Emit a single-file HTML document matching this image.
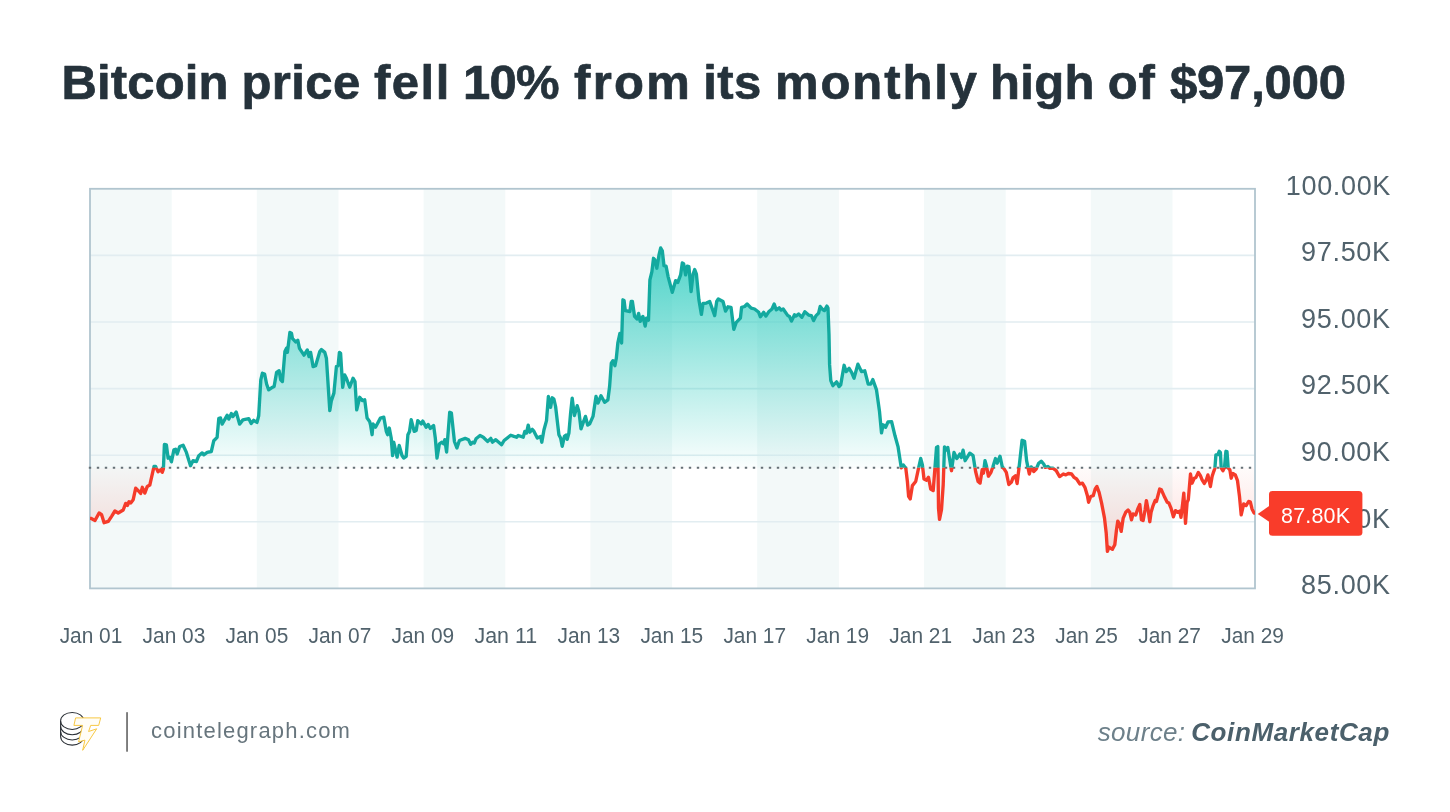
<!DOCTYPE html>
<html><head><meta charset="utf-8"><title>Bitcoin price chart</title>
<style>
html,body{margin:0;padding:0;background:#fff;}
body{width:1450px;height:812px;overflow:hidden;font-family:"Liberation Sans",sans-serif;}
svg{display:block;will-change:transform;}
text{font-family:"Liberation Sans",sans-serif;white-space:pre;}
.tt{font-size:49px;font-weight:bold;fill:#25323b;stroke:#25323b;stroke-width:0.7px;stroke-linejoin:round;}
.yl{font-size:27px;fill:#51626c;}
.xl{font-size:21.5px;fill:#51626c;}
</style></head><body>
<svg width="1450" height="812" viewBox="0 0 1450 812">
<defs>
<linearGradient id="gt" gradientUnits="userSpaceOnUse" x1="0" y1="246" x2="0" y2="467.8">
<stop offset="0" stop-color="#20c9bb" stop-opacity="0.80"/><stop offset="1" stop-color="#20c9bb" stop-opacity="0.02"/>
</linearGradient>
<linearGradient id="gr" gradientUnits="userSpaceOnUse" x1="0" y1="467.8" x2="0" y2="588.4">
<stop offset="0" stop-color="#f23c2c" stop-opacity="0.02"/><stop offset="1" stop-color="#f23c2c" stop-opacity="0.25"/>
</linearGradient>
<clipPath id="ca"><rect x="90.0" y="188.8" width="1165.0" height="279.0"/></clipPath>
<clipPath id="cb"><rect x="90.0" y="467.8" width="1165.0" height="120.6"/></clipPath>
</defs>
<rect width="1450" height="812" fill="#ffffff"/>
<text x="61.52" y="99.1" class="tt" textLength="166.97" lengthAdjust="spacing">Bitcoin</text><text x="241.52" y="99.1" class="tt" textLength="118.71" lengthAdjust="spacing">price</text><text x="374.00" y="99.1" class="tt" textLength="75.38" lengthAdjust="spacing">fell</text><text x="463.00" y="99.1" class="tt" textLength="96.50" lengthAdjust="spacing">10%</text><text x="574.00" y="99.1" class="tt" textLength="115.93" lengthAdjust="spacing">from</text><text x="703.24" y="99.1" class="tt" textLength="58.07" lengthAdjust="spacing">its</text><text x="775.00" y="99.1" class="tt" textLength="202.01" lengthAdjust="spacing">monthly</text><text x="990.00" y="99.1" class="tt" textLength="104.34" lengthAdjust="spacing">high</text><text x="1107.76" y="99.1" class="tt" textLength="47.17" lengthAdjust="spacing">of</text><text x="1169.96" y="99.1" class="tt" textLength="176.05" lengthAdjust="spacing">$97,000</text>
<rect x="90.0" y="188.8" width="81.7" height="399.6" fill="#f3f9f9"/><rect x="256.8" y="188.8" width="81.7" height="399.6" fill="#f3f9f9"/><rect x="423.6" y="188.8" width="81.7" height="399.6" fill="#f3f9f9"/><rect x="590.4" y="188.8" width="81.7" height="399.6" fill="#f3f9f9"/><rect x="757.2" y="188.8" width="81.7" height="399.6" fill="#f3f9f9"/><rect x="924.0" y="188.8" width="81.7" height="399.6" fill="#f3f9f9"/><rect x="1090.8" y="188.8" width="81.7" height="399.6" fill="#f3f9f9"/>
<line x1="90.0" x2="1255.0" y1="255.4" y2="255.4" stroke="#e2edf1" stroke-width="1.6"/><line x1="90.0" x2="1255.0" y1="322.0" y2="322.0" stroke="#e2edf1" stroke-width="1.6"/><line x1="90.0" x2="1255.0" y1="388.6" y2="388.6" stroke="#e2edf1" stroke-width="1.6"/><line x1="90.0" x2="1255.0" y1="455.2" y2="455.2" stroke="#e2edf1" stroke-width="1.6"/><line x1="90.0" x2="1255.0" y1="521.8" y2="521.8" stroke="#e2edf1" stroke-width="1.6"/>
<g clip-path="url(#ca)"><polygon points="90.0,467.8 90.0,518.3 90.8,518.3 95.0,520.5 99.1,513.0 101.6,514.7 104.1,522.7 108.3,521.3 111.6,516.3 114.9,511.0 118.2,513.0 123.2,510.0 125.7,503.4 127.4,505.5 129.0,501.7 130.7,503.0 133.2,499.7 135.7,488.1 138.2,490.6 140.7,493.4 142.3,487.3 144.8,493.1 147.3,486.4 149.8,485.1 154.0,466.5 155.6,466.5 158.1,471.8 160.6,469.8 162.3,472.3 163.4,469.0 164.4,444.5 166.4,444.9 168.1,458.2 169.8,457.3 171.4,461.8 173.9,449.9 175.6,449.2 177.2,454.0 179.7,446.5 183.1,445.2 186.4,452.4 190.5,465.7 193.0,460.7 196.4,461.5 198.8,455.7 202.2,452.9 203.8,454.8 207.2,452.4 211.3,451.5 213.8,440.7 217.1,437.4 218.8,418.3 220.5,418.0 222.1,424.1 227.1,415.3 228.8,419.1 231.3,413.6 232.9,416.6 236.2,412.0 239.6,424.1 242.9,419.9 248.7,418.6 251.2,423.6 253.7,420.3 257.0,422.4 258.7,415.8 260.8,379.8 262.4,373.2 264.6,374.0 266.6,384.0 268.6,389.8 271.6,387.8 274.1,386.5 276.6,372.4 279.1,370.7 280.7,379.8 282.4,381.5 284.9,351.6 286.5,348.3 287.4,352.4 289.9,332.5 291.5,333.3 292.4,338.3 295.7,342.0 297.8,340.3 299.5,348.3 304.0,355.2 307.3,349.9 309.0,356.6 310.6,352.4 313.1,366.6 315.6,365.7 319.8,351.6 321.4,349.6 324.8,352.4 326.4,358.2 329.8,410.6 331.4,400.6 333.9,393.1 336.4,366.6 338.1,365.7 339.4,352.4 340.6,353.3 342.7,387.3 344.7,374.9 346.4,378.2 349.7,387.3 353.0,378.2 355.0,381.5 356.7,409.8 359.7,397.3 362.2,400.6 364.7,399.8 367.1,418.1 369.6,421.4 370.5,424.7 372.1,434.7 373.0,423.9 375.5,427.2 380.4,418.1 383.8,417.2 386.3,431.4 387.6,434.7 389.3,428.0 391.2,438.0 392.6,455.5 393.7,442.2 397.1,457.1 399.2,445.5 402.0,455.5 403.7,458.0 406.2,456.3 407.9,434.7 409.5,431.4 411.2,419.7 414.2,431.4 416.2,430.5 417.8,420.6 421.2,423.9 422.8,421.1 426.1,427.2 428.1,424.4 430.3,428.4 433.6,425.6 435.3,438.0 437.0,458.0 439.4,443.8 441.9,442.2 443.6,443.8 444.8,439.7 446.6,452.1 449.7,412.3 451.4,413.1 454.4,441.3 456.9,448.0 459.4,440.5 465.2,438.4 468.5,439.7 470.7,444.3 472.7,442.2 474.3,443.0 476.0,438.8 480.0,435.5 483.3,437.2 487.5,441.4 490.8,438.4 492.4,442.2 495.8,439.7 501.6,444.7 504.1,440.5 510.7,435.2 514.0,436.4 516.5,437.2 518.2,435.5 523.2,437.2 524.8,431.4 526.5,433.0 528.2,425.1 529.8,432.2 532.3,429.4 534.0,431.4 537.3,438.0 540.6,436.4 541.8,442.2 544.0,429.7 546.5,420.6 548.4,396.5 550.6,407.3 552.3,397.8 553.9,399.0 555.6,406.5 558.9,434.7 560.6,438.0 562.2,446.3 564.4,436.4 566.1,435.0 567.2,439.4 568.9,433.0 570.6,413.1 572.2,398.1 574.4,415.6 577.2,405.6 578.9,411.4 581.0,428.9 583.0,423.1 585.5,416.4 587.7,425.1 589.7,423.9 593.0,416.4 596.0,396.5 598.0,403.1 601.0,395.7 604.6,402.3 607.9,399.8 609.6,386.5 611.3,363.2 612.9,360.7 614.9,365.7 616.3,358.3 617.9,342.5 619.9,333.4 621.6,343.0 622.9,299.8 624.1,300.7 625.3,310.6 629.9,311.5 631.2,301.5 632.4,301.5 634.6,316.4 636.9,318.9 638.6,313.4 640.2,321.4 642.9,316.4 645.2,326.1 646.5,318.1 648.5,320.1 649.9,279.9 651.9,271.6 653.5,258.3 654.8,259.9 656.8,268.2 659.0,254.9 660.7,248.0 662.3,250.8 664.0,265.7 666.1,266.2 668.1,276.6 672.3,292.3 675.6,280.7 677.8,282.4 680.6,274.9 682.3,262.9 683.6,263.6 685.6,274.9 687.3,266.2 688.9,266.6 691.1,291.5 693.1,274.1 694.7,269.6 696.4,274.1 698.9,299.8 701.4,314.4 703.0,303.5 706.4,303.1 709.7,301.5 714.7,315.6 716.7,301.5 718.3,299.0 723.0,301.5 725.5,311.1 728.0,306.8 731.0,307.3 733.8,329.4 736.3,322.3 740.4,318.1 741.6,307.3 744.6,306.5 747.1,304.0 751.2,308.1 754.6,309.0 758.7,312.3 760.4,316.8 763.7,312.3 765.9,316.1 768.7,311.8 772.0,309.0 774.2,304.0 776.2,309.8 779.2,307.8 781.2,310.1 783.2,309.0 787.8,315.6 789.5,316.4 791.5,321.1 794.5,314.8 796.1,316.1 798.6,313.9 801.9,317.3 804.8,311.8 808.6,315.1 811.4,315.6 813.6,320.6 816.1,315.6 818.6,313.1 820.2,306.5 822.7,309.5 824.4,310.6 826.9,306.1 828.0,308.1 829.0,334.7 829.6,364.9 830.8,380.7 832.9,385.7 836.6,381.9 839.1,386.6 840.7,384.9 844.1,365.3 846.2,371.6 849.1,368.3 851.6,372.4 854.0,378.2 857.9,364.1 861.5,371.6 864.8,370.8 868.2,384.1 870.7,384.1 872.8,379.6 876.5,389.9 879.5,411.5 881.5,432.8 883.1,424.8 885.6,427.3 888.0,422.0 891.6,421.6 895.0,435.8 898.0,446.6 901.3,467.9 903.3,464.9 905.8,468.2 907.4,481.5 908.6,496.4 910.2,498.9 912.4,485.6 915.7,481.5 918.2,469.8 920.7,458.5 922.4,464.9 924.0,479.0 926.5,480.2 928.5,477.3 930.7,489.0 933.2,490.6 934.8,469.8 936.5,447.4 937.8,446.6 938.5,508.1 939.5,519.4 941.5,509.7 943.2,484.8 944.5,446.9 946.1,449.9 947.8,447.4 949.5,458.2 951.5,470.7 954.0,452.4 956.8,458.5 959.8,454.1 961.4,457.4 963.1,450.2 965.1,460.7 969.8,453.2 973.1,455.7 975.6,471.5 978.1,481.5 980.1,483.1 982.2,469.8 983.4,473.2 985.0,460.7 986.4,465.7 988.4,476.2 991.0,472.3 993.0,466.5 995.5,458.5 997.2,463.2 1000.0,456.2 1002.2,466.5 1004.7,469.8 1006.3,472.3 1008.8,484.5 1011.3,482.3 1013.0,477.8 1015.5,475.7 1017.1,483.5 1018.8,469.8 1022.1,440.3 1024.6,441.3 1026.6,460.7 1029.3,474.0 1031.2,466.9 1033.7,471.5 1036.2,469.0 1038.7,463.2 1041.2,461.2 1043.7,464.0 1045.4,467.4 1047.9,466.5 1049.5,468.2 1052.9,468.2 1056.2,470.7 1059.5,476.5 1060.0,476.5 1063.3,474.0 1065.8,474.9 1068.3,473.5 1071.6,474.0 1074.1,477.4 1076.6,479.0 1079.9,484.0 1082.4,483.2 1084.9,487.3 1087.4,495.7 1088.6,502.3 1090.7,496.5 1093.2,495.7 1095.2,489.0 1096.9,486.5 1099.1,492.3 1101.6,503.1 1104.5,518.1 1106.2,533.0 1107.4,551.3 1109.0,547.2 1110.7,548.3 1112.4,549.3 1114.8,544.7 1116.5,529.7 1117.8,521.1 1119.5,523.9 1121.2,531.4 1123.2,518.1 1125.7,512.3 1128.1,510.1 1129.8,512.3 1131.5,519.8 1133.1,513.9 1135.6,515.1 1138.1,508.1 1139.8,504.5 1141.4,519.8 1143.1,520.6 1145.1,509.8 1146.4,500.6 1148.1,509.8 1149.8,521.7 1151.1,512.3 1153.1,505.6 1155.1,500.6 1156.4,501.5 1159.7,489.0 1161.4,489.8 1164.7,497.3 1167.2,502.3 1168.9,503.1 1171.0,508.1 1173.4,516.8 1175.5,510.6 1177.7,512.3 1179.7,511.1 1181.0,517.3 1182.7,503.1 1183.8,493.2 1185.5,523.4 1187.1,502.3 1188.3,499.8 1190.5,474.0 1192.1,483.2 1194.3,478.2 1196.0,477.4 1198.3,472.4 1200.4,475.7 1202.1,479.9 1204.3,483.5 1206.3,479.9 1207.9,474.9 1210.4,486.5 1212.1,476.5 1213.7,471.6 1214.9,468.2 1215.9,454.9 1217.9,454.6 1219.2,451.3 1220.4,452.4 1221.2,467.9 1222.9,470.7 1224.5,467.4 1225.9,451.3 1227.0,451.6 1228.2,467.9 1229.9,469.9 1231.2,478.2 1232.9,473.5 1235.3,474.9 1237.5,480.7 1239.5,496.5 1241.2,514.8 1243.7,504.0 1246.1,505.6 1248.6,501.5 1250.3,501.8 1252.0,508.9 1254.1,513.1 1254.5,513.1 1254.5,467.8" fill="url(#gt)"/></g>
<g clip-path="url(#cb)"><polygon points="90.0,467.8 90.0,518.3 90.8,518.3 95.0,520.5 99.1,513.0 101.6,514.7 104.1,522.7 108.3,521.3 111.6,516.3 114.9,511.0 118.2,513.0 123.2,510.0 125.7,503.4 127.4,505.5 129.0,501.7 130.7,503.0 133.2,499.7 135.7,488.1 138.2,490.6 140.7,493.4 142.3,487.3 144.8,493.1 147.3,486.4 149.8,485.1 154.0,466.5 155.6,466.5 158.1,471.8 160.6,469.8 162.3,472.3 163.4,469.0 164.4,444.5 166.4,444.9 168.1,458.2 169.8,457.3 171.4,461.8 173.9,449.9 175.6,449.2 177.2,454.0 179.7,446.5 183.1,445.2 186.4,452.4 190.5,465.7 193.0,460.7 196.4,461.5 198.8,455.7 202.2,452.9 203.8,454.8 207.2,452.4 211.3,451.5 213.8,440.7 217.1,437.4 218.8,418.3 220.5,418.0 222.1,424.1 227.1,415.3 228.8,419.1 231.3,413.6 232.9,416.6 236.2,412.0 239.6,424.1 242.9,419.9 248.7,418.6 251.2,423.6 253.7,420.3 257.0,422.4 258.7,415.8 260.8,379.8 262.4,373.2 264.6,374.0 266.6,384.0 268.6,389.8 271.6,387.8 274.1,386.5 276.6,372.4 279.1,370.7 280.7,379.8 282.4,381.5 284.9,351.6 286.5,348.3 287.4,352.4 289.9,332.5 291.5,333.3 292.4,338.3 295.7,342.0 297.8,340.3 299.5,348.3 304.0,355.2 307.3,349.9 309.0,356.6 310.6,352.4 313.1,366.6 315.6,365.7 319.8,351.6 321.4,349.6 324.8,352.4 326.4,358.2 329.8,410.6 331.4,400.6 333.9,393.1 336.4,366.6 338.1,365.7 339.4,352.4 340.6,353.3 342.7,387.3 344.7,374.9 346.4,378.2 349.7,387.3 353.0,378.2 355.0,381.5 356.7,409.8 359.7,397.3 362.2,400.6 364.7,399.8 367.1,418.1 369.6,421.4 370.5,424.7 372.1,434.7 373.0,423.9 375.5,427.2 380.4,418.1 383.8,417.2 386.3,431.4 387.6,434.7 389.3,428.0 391.2,438.0 392.6,455.5 393.7,442.2 397.1,457.1 399.2,445.5 402.0,455.5 403.7,458.0 406.2,456.3 407.9,434.7 409.5,431.4 411.2,419.7 414.2,431.4 416.2,430.5 417.8,420.6 421.2,423.9 422.8,421.1 426.1,427.2 428.1,424.4 430.3,428.4 433.6,425.6 435.3,438.0 437.0,458.0 439.4,443.8 441.9,442.2 443.6,443.8 444.8,439.7 446.6,452.1 449.7,412.3 451.4,413.1 454.4,441.3 456.9,448.0 459.4,440.5 465.2,438.4 468.5,439.7 470.7,444.3 472.7,442.2 474.3,443.0 476.0,438.8 480.0,435.5 483.3,437.2 487.5,441.4 490.8,438.4 492.4,442.2 495.8,439.7 501.6,444.7 504.1,440.5 510.7,435.2 514.0,436.4 516.5,437.2 518.2,435.5 523.2,437.2 524.8,431.4 526.5,433.0 528.2,425.1 529.8,432.2 532.3,429.4 534.0,431.4 537.3,438.0 540.6,436.4 541.8,442.2 544.0,429.7 546.5,420.6 548.4,396.5 550.6,407.3 552.3,397.8 553.9,399.0 555.6,406.5 558.9,434.7 560.6,438.0 562.2,446.3 564.4,436.4 566.1,435.0 567.2,439.4 568.9,433.0 570.6,413.1 572.2,398.1 574.4,415.6 577.2,405.6 578.9,411.4 581.0,428.9 583.0,423.1 585.5,416.4 587.7,425.1 589.7,423.9 593.0,416.4 596.0,396.5 598.0,403.1 601.0,395.7 604.6,402.3 607.9,399.8 609.6,386.5 611.3,363.2 612.9,360.7 614.9,365.7 616.3,358.3 617.9,342.5 619.9,333.4 621.6,343.0 622.9,299.8 624.1,300.7 625.3,310.6 629.9,311.5 631.2,301.5 632.4,301.5 634.6,316.4 636.9,318.9 638.6,313.4 640.2,321.4 642.9,316.4 645.2,326.1 646.5,318.1 648.5,320.1 649.9,279.9 651.9,271.6 653.5,258.3 654.8,259.9 656.8,268.2 659.0,254.9 660.7,248.0 662.3,250.8 664.0,265.7 666.1,266.2 668.1,276.6 672.3,292.3 675.6,280.7 677.8,282.4 680.6,274.9 682.3,262.9 683.6,263.6 685.6,274.9 687.3,266.2 688.9,266.6 691.1,291.5 693.1,274.1 694.7,269.6 696.4,274.1 698.9,299.8 701.4,314.4 703.0,303.5 706.4,303.1 709.7,301.5 714.7,315.6 716.7,301.5 718.3,299.0 723.0,301.5 725.5,311.1 728.0,306.8 731.0,307.3 733.8,329.4 736.3,322.3 740.4,318.1 741.6,307.3 744.6,306.5 747.1,304.0 751.2,308.1 754.6,309.0 758.7,312.3 760.4,316.8 763.7,312.3 765.9,316.1 768.7,311.8 772.0,309.0 774.2,304.0 776.2,309.8 779.2,307.8 781.2,310.1 783.2,309.0 787.8,315.6 789.5,316.4 791.5,321.1 794.5,314.8 796.1,316.1 798.6,313.9 801.9,317.3 804.8,311.8 808.6,315.1 811.4,315.6 813.6,320.6 816.1,315.6 818.6,313.1 820.2,306.5 822.7,309.5 824.4,310.6 826.9,306.1 828.0,308.1 829.0,334.7 829.6,364.9 830.8,380.7 832.9,385.7 836.6,381.9 839.1,386.6 840.7,384.9 844.1,365.3 846.2,371.6 849.1,368.3 851.6,372.4 854.0,378.2 857.9,364.1 861.5,371.6 864.8,370.8 868.2,384.1 870.7,384.1 872.8,379.6 876.5,389.9 879.5,411.5 881.5,432.8 883.1,424.8 885.6,427.3 888.0,422.0 891.6,421.6 895.0,435.8 898.0,446.6 901.3,467.9 903.3,464.9 905.8,468.2 907.4,481.5 908.6,496.4 910.2,498.9 912.4,485.6 915.7,481.5 918.2,469.8 920.7,458.5 922.4,464.9 924.0,479.0 926.5,480.2 928.5,477.3 930.7,489.0 933.2,490.6 934.8,469.8 936.5,447.4 937.8,446.6 938.5,508.1 939.5,519.4 941.5,509.7 943.2,484.8 944.5,446.9 946.1,449.9 947.8,447.4 949.5,458.2 951.5,470.7 954.0,452.4 956.8,458.5 959.8,454.1 961.4,457.4 963.1,450.2 965.1,460.7 969.8,453.2 973.1,455.7 975.6,471.5 978.1,481.5 980.1,483.1 982.2,469.8 983.4,473.2 985.0,460.7 986.4,465.7 988.4,476.2 991.0,472.3 993.0,466.5 995.5,458.5 997.2,463.2 1000.0,456.2 1002.2,466.5 1004.7,469.8 1006.3,472.3 1008.8,484.5 1011.3,482.3 1013.0,477.8 1015.5,475.7 1017.1,483.5 1018.8,469.8 1022.1,440.3 1024.6,441.3 1026.6,460.7 1029.3,474.0 1031.2,466.9 1033.7,471.5 1036.2,469.0 1038.7,463.2 1041.2,461.2 1043.7,464.0 1045.4,467.4 1047.9,466.5 1049.5,468.2 1052.9,468.2 1056.2,470.7 1059.5,476.5 1060.0,476.5 1063.3,474.0 1065.8,474.9 1068.3,473.5 1071.6,474.0 1074.1,477.4 1076.6,479.0 1079.9,484.0 1082.4,483.2 1084.9,487.3 1087.4,495.7 1088.6,502.3 1090.7,496.5 1093.2,495.7 1095.2,489.0 1096.9,486.5 1099.1,492.3 1101.6,503.1 1104.5,518.1 1106.2,533.0 1107.4,551.3 1109.0,547.2 1110.7,548.3 1112.4,549.3 1114.8,544.7 1116.5,529.7 1117.8,521.1 1119.5,523.9 1121.2,531.4 1123.2,518.1 1125.7,512.3 1128.1,510.1 1129.8,512.3 1131.5,519.8 1133.1,513.9 1135.6,515.1 1138.1,508.1 1139.8,504.5 1141.4,519.8 1143.1,520.6 1145.1,509.8 1146.4,500.6 1148.1,509.8 1149.8,521.7 1151.1,512.3 1153.1,505.6 1155.1,500.6 1156.4,501.5 1159.7,489.0 1161.4,489.8 1164.7,497.3 1167.2,502.3 1168.9,503.1 1171.0,508.1 1173.4,516.8 1175.5,510.6 1177.7,512.3 1179.7,511.1 1181.0,517.3 1182.7,503.1 1183.8,493.2 1185.5,523.4 1187.1,502.3 1188.3,499.8 1190.5,474.0 1192.1,483.2 1194.3,478.2 1196.0,477.4 1198.3,472.4 1200.4,475.7 1202.1,479.9 1204.3,483.5 1206.3,479.9 1207.9,474.9 1210.4,486.5 1212.1,476.5 1213.7,471.6 1214.9,468.2 1215.9,454.9 1217.9,454.6 1219.2,451.3 1220.4,452.4 1221.2,467.9 1222.9,470.7 1224.5,467.4 1225.9,451.3 1227.0,451.6 1228.2,467.9 1229.9,469.9 1231.2,478.2 1232.9,473.5 1235.3,474.9 1237.5,480.7 1239.5,496.5 1241.2,514.8 1243.7,504.0 1246.1,505.6 1248.6,501.5 1250.3,501.8 1252.0,508.9 1254.1,513.1 1254.5,513.1 1254.5,467.8" fill="url(#gr)"/></g>
<rect x="90.0" y="188.8" width="1165.0" height="399.6" fill="none" stroke="#b1c5cf" stroke-width="1.8"/>
<line x1="88.8" x2="1255.0" y1="467.8" y2="467.8" stroke="#667076" stroke-width="2.1" stroke-dasharray="2.4 5.6"/>
<g clip-path="url(#ca)"><polyline points="90.0,518.3 90.8,518.3 95.0,520.5 99.1,513.0 101.6,514.7 104.1,522.7 108.3,521.3 111.6,516.3 114.9,511.0 118.2,513.0 123.2,510.0 125.7,503.4 127.4,505.5 129.0,501.7 130.7,503.0 133.2,499.7 135.7,488.1 138.2,490.6 140.7,493.4 142.3,487.3 144.8,493.1 147.3,486.4 149.8,485.1 154.0,466.5 155.6,466.5 158.1,471.8 160.6,469.8 162.3,472.3 163.4,469.0 164.4,444.5 166.4,444.9 168.1,458.2 169.8,457.3 171.4,461.8 173.9,449.9 175.6,449.2 177.2,454.0 179.7,446.5 183.1,445.2 186.4,452.4 190.5,465.7 193.0,460.7 196.4,461.5 198.8,455.7 202.2,452.9 203.8,454.8 207.2,452.4 211.3,451.5 213.8,440.7 217.1,437.4 218.8,418.3 220.5,418.0 222.1,424.1 227.1,415.3 228.8,419.1 231.3,413.6 232.9,416.6 236.2,412.0 239.6,424.1 242.9,419.9 248.7,418.6 251.2,423.6 253.7,420.3 257.0,422.4 258.7,415.8 260.8,379.8 262.4,373.2 264.6,374.0 266.6,384.0 268.6,389.8 271.6,387.8 274.1,386.5 276.6,372.4 279.1,370.7 280.7,379.8 282.4,381.5 284.9,351.6 286.5,348.3 287.4,352.4 289.9,332.5 291.5,333.3 292.4,338.3 295.7,342.0 297.8,340.3 299.5,348.3 304.0,355.2 307.3,349.9 309.0,356.6 310.6,352.4 313.1,366.6 315.6,365.7 319.8,351.6 321.4,349.6 324.8,352.4 326.4,358.2 329.8,410.6 331.4,400.6 333.9,393.1 336.4,366.6 338.1,365.7 339.4,352.4 340.6,353.3 342.7,387.3 344.7,374.9 346.4,378.2 349.7,387.3 353.0,378.2 355.0,381.5 356.7,409.8 359.7,397.3 362.2,400.6 364.7,399.8 367.1,418.1 369.6,421.4 370.5,424.7 372.1,434.7 373.0,423.9 375.5,427.2 380.4,418.1 383.8,417.2 386.3,431.4 387.6,434.7 389.3,428.0 391.2,438.0 392.6,455.5 393.7,442.2 397.1,457.1 399.2,445.5 402.0,455.5 403.7,458.0 406.2,456.3 407.9,434.7 409.5,431.4 411.2,419.7 414.2,431.4 416.2,430.5 417.8,420.6 421.2,423.9 422.8,421.1 426.1,427.2 428.1,424.4 430.3,428.4 433.6,425.6 435.3,438.0 437.0,458.0 439.4,443.8 441.9,442.2 443.6,443.8 444.8,439.7 446.6,452.1 449.7,412.3 451.4,413.1 454.4,441.3 456.9,448.0 459.4,440.5 465.2,438.4 468.5,439.7 470.7,444.3 472.7,442.2 474.3,443.0 476.0,438.8 480.0,435.5 483.3,437.2 487.5,441.4 490.8,438.4 492.4,442.2 495.8,439.7 501.6,444.7 504.1,440.5 510.7,435.2 514.0,436.4 516.5,437.2 518.2,435.5 523.2,437.2 524.8,431.4 526.5,433.0 528.2,425.1 529.8,432.2 532.3,429.4 534.0,431.4 537.3,438.0 540.6,436.4 541.8,442.2 544.0,429.7 546.5,420.6 548.4,396.5 550.6,407.3 552.3,397.8 553.9,399.0 555.6,406.5 558.9,434.7 560.6,438.0 562.2,446.3 564.4,436.4 566.1,435.0 567.2,439.4 568.9,433.0 570.6,413.1 572.2,398.1 574.4,415.6 577.2,405.6 578.9,411.4 581.0,428.9 583.0,423.1 585.5,416.4 587.7,425.1 589.7,423.9 593.0,416.4 596.0,396.5 598.0,403.1 601.0,395.7 604.6,402.3 607.9,399.8 609.6,386.5 611.3,363.2 612.9,360.7 614.9,365.7 616.3,358.3 617.9,342.5 619.9,333.4 621.6,343.0 622.9,299.8 624.1,300.7 625.3,310.6 629.9,311.5 631.2,301.5 632.4,301.5 634.6,316.4 636.9,318.9 638.6,313.4 640.2,321.4 642.9,316.4 645.2,326.1 646.5,318.1 648.5,320.1 649.9,279.9 651.9,271.6 653.5,258.3 654.8,259.9 656.8,268.2 659.0,254.9 660.7,248.0 662.3,250.8 664.0,265.7 666.1,266.2 668.1,276.6 672.3,292.3 675.6,280.7 677.8,282.4 680.6,274.9 682.3,262.9 683.6,263.6 685.6,274.9 687.3,266.2 688.9,266.6 691.1,291.5 693.1,274.1 694.7,269.6 696.4,274.1 698.9,299.8 701.4,314.4 703.0,303.5 706.4,303.1 709.7,301.5 714.7,315.6 716.7,301.5 718.3,299.0 723.0,301.5 725.5,311.1 728.0,306.8 731.0,307.3 733.8,329.4 736.3,322.3 740.4,318.1 741.6,307.3 744.6,306.5 747.1,304.0 751.2,308.1 754.6,309.0 758.7,312.3 760.4,316.8 763.7,312.3 765.9,316.1 768.7,311.8 772.0,309.0 774.2,304.0 776.2,309.8 779.2,307.8 781.2,310.1 783.2,309.0 787.8,315.6 789.5,316.4 791.5,321.1 794.5,314.8 796.1,316.1 798.6,313.9 801.9,317.3 804.8,311.8 808.6,315.1 811.4,315.6 813.6,320.6 816.1,315.6 818.6,313.1 820.2,306.5 822.7,309.5 824.4,310.6 826.9,306.1 828.0,308.1 829.0,334.7 829.6,364.9 830.8,380.7 832.9,385.7 836.6,381.9 839.1,386.6 840.7,384.9 844.1,365.3 846.2,371.6 849.1,368.3 851.6,372.4 854.0,378.2 857.9,364.1 861.5,371.6 864.8,370.8 868.2,384.1 870.7,384.1 872.8,379.6 876.5,389.9 879.5,411.5 881.5,432.8 883.1,424.8 885.6,427.3 888.0,422.0 891.6,421.6 895.0,435.8 898.0,446.6 901.3,467.9 903.3,464.9 905.8,468.2 907.4,481.5 908.6,496.4 910.2,498.9 912.4,485.6 915.7,481.5 918.2,469.8 920.7,458.5 922.4,464.9 924.0,479.0 926.5,480.2 928.5,477.3 930.7,489.0 933.2,490.6 934.8,469.8 936.5,447.4 937.8,446.6 938.5,508.1 939.5,519.4 941.5,509.7 943.2,484.8 944.5,446.9 946.1,449.9 947.8,447.4 949.5,458.2 951.5,470.7 954.0,452.4 956.8,458.5 959.8,454.1 961.4,457.4 963.1,450.2 965.1,460.7 969.8,453.2 973.1,455.7 975.6,471.5 978.1,481.5 980.1,483.1 982.2,469.8 983.4,473.2 985.0,460.7 986.4,465.7 988.4,476.2 991.0,472.3 993.0,466.5 995.5,458.5 997.2,463.2 1000.0,456.2 1002.2,466.5 1004.7,469.8 1006.3,472.3 1008.8,484.5 1011.3,482.3 1013.0,477.8 1015.5,475.7 1017.1,483.5 1018.8,469.8 1022.1,440.3 1024.6,441.3 1026.6,460.7 1029.3,474.0 1031.2,466.9 1033.7,471.5 1036.2,469.0 1038.7,463.2 1041.2,461.2 1043.7,464.0 1045.4,467.4 1047.9,466.5 1049.5,468.2 1052.9,468.2 1056.2,470.7 1059.5,476.5 1060.0,476.5 1063.3,474.0 1065.8,474.9 1068.3,473.5 1071.6,474.0 1074.1,477.4 1076.6,479.0 1079.9,484.0 1082.4,483.2 1084.9,487.3 1087.4,495.7 1088.6,502.3 1090.7,496.5 1093.2,495.7 1095.2,489.0 1096.9,486.5 1099.1,492.3 1101.6,503.1 1104.5,518.1 1106.2,533.0 1107.4,551.3 1109.0,547.2 1110.7,548.3 1112.4,549.3 1114.8,544.7 1116.5,529.7 1117.8,521.1 1119.5,523.9 1121.2,531.4 1123.2,518.1 1125.7,512.3 1128.1,510.1 1129.8,512.3 1131.5,519.8 1133.1,513.9 1135.6,515.1 1138.1,508.1 1139.8,504.5 1141.4,519.8 1143.1,520.6 1145.1,509.8 1146.4,500.6 1148.1,509.8 1149.8,521.7 1151.1,512.3 1153.1,505.6 1155.1,500.6 1156.4,501.5 1159.7,489.0 1161.4,489.8 1164.7,497.3 1167.2,502.3 1168.9,503.1 1171.0,508.1 1173.4,516.8 1175.5,510.6 1177.7,512.3 1179.7,511.1 1181.0,517.3 1182.7,503.1 1183.8,493.2 1185.5,523.4 1187.1,502.3 1188.3,499.8 1190.5,474.0 1192.1,483.2 1194.3,478.2 1196.0,477.4 1198.3,472.4 1200.4,475.7 1202.1,479.9 1204.3,483.5 1206.3,479.9 1207.9,474.9 1210.4,486.5 1212.1,476.5 1213.7,471.6 1214.9,468.2 1215.9,454.9 1217.9,454.6 1219.2,451.3 1220.4,452.4 1221.2,467.9 1222.9,470.7 1224.5,467.4 1225.9,451.3 1227.0,451.6 1228.2,467.9 1229.9,469.9 1231.2,478.2 1232.9,473.5 1235.3,474.9 1237.5,480.7 1239.5,496.5 1241.2,514.8 1243.7,504.0 1246.1,505.6 1248.6,501.5 1250.3,501.8 1252.0,508.9 1254.1,513.1 1254.5,513.1" fill="none" stroke="#13a99f" stroke-width="3.35" stroke-linejoin="round" stroke-linecap="round"/></g>
<g clip-path="url(#cb)"><polyline points="90.0,518.3 90.8,518.3 95.0,520.5 99.1,513.0 101.6,514.7 104.1,522.7 108.3,521.3 111.6,516.3 114.9,511.0 118.2,513.0 123.2,510.0 125.7,503.4 127.4,505.5 129.0,501.7 130.7,503.0 133.2,499.7 135.7,488.1 138.2,490.6 140.7,493.4 142.3,487.3 144.8,493.1 147.3,486.4 149.8,485.1 154.0,466.5 155.6,466.5 158.1,471.8 160.6,469.8 162.3,472.3 163.4,469.0 164.4,444.5 166.4,444.9 168.1,458.2 169.8,457.3 171.4,461.8 173.9,449.9 175.6,449.2 177.2,454.0 179.7,446.5 183.1,445.2 186.4,452.4 190.5,465.7 193.0,460.7 196.4,461.5 198.8,455.7 202.2,452.9 203.8,454.8 207.2,452.4 211.3,451.5 213.8,440.7 217.1,437.4 218.8,418.3 220.5,418.0 222.1,424.1 227.1,415.3 228.8,419.1 231.3,413.6 232.9,416.6 236.2,412.0 239.6,424.1 242.9,419.9 248.7,418.6 251.2,423.6 253.7,420.3 257.0,422.4 258.7,415.8 260.8,379.8 262.4,373.2 264.6,374.0 266.6,384.0 268.6,389.8 271.6,387.8 274.1,386.5 276.6,372.4 279.1,370.7 280.7,379.8 282.4,381.5 284.9,351.6 286.5,348.3 287.4,352.4 289.9,332.5 291.5,333.3 292.4,338.3 295.7,342.0 297.8,340.3 299.5,348.3 304.0,355.2 307.3,349.9 309.0,356.6 310.6,352.4 313.1,366.6 315.6,365.7 319.8,351.6 321.4,349.6 324.8,352.4 326.4,358.2 329.8,410.6 331.4,400.6 333.9,393.1 336.4,366.6 338.1,365.7 339.4,352.4 340.6,353.3 342.7,387.3 344.7,374.9 346.4,378.2 349.7,387.3 353.0,378.2 355.0,381.5 356.7,409.8 359.7,397.3 362.2,400.6 364.7,399.8 367.1,418.1 369.6,421.4 370.5,424.7 372.1,434.7 373.0,423.9 375.5,427.2 380.4,418.1 383.8,417.2 386.3,431.4 387.6,434.7 389.3,428.0 391.2,438.0 392.6,455.5 393.7,442.2 397.1,457.1 399.2,445.5 402.0,455.5 403.7,458.0 406.2,456.3 407.9,434.7 409.5,431.4 411.2,419.7 414.2,431.4 416.2,430.5 417.8,420.6 421.2,423.9 422.8,421.1 426.1,427.2 428.1,424.4 430.3,428.4 433.6,425.6 435.3,438.0 437.0,458.0 439.4,443.8 441.9,442.2 443.6,443.8 444.8,439.7 446.6,452.1 449.7,412.3 451.4,413.1 454.4,441.3 456.9,448.0 459.4,440.5 465.2,438.4 468.5,439.7 470.7,444.3 472.7,442.2 474.3,443.0 476.0,438.8 480.0,435.5 483.3,437.2 487.5,441.4 490.8,438.4 492.4,442.2 495.8,439.7 501.6,444.7 504.1,440.5 510.7,435.2 514.0,436.4 516.5,437.2 518.2,435.5 523.2,437.2 524.8,431.4 526.5,433.0 528.2,425.1 529.8,432.2 532.3,429.4 534.0,431.4 537.3,438.0 540.6,436.4 541.8,442.2 544.0,429.7 546.5,420.6 548.4,396.5 550.6,407.3 552.3,397.8 553.9,399.0 555.6,406.5 558.9,434.7 560.6,438.0 562.2,446.3 564.4,436.4 566.1,435.0 567.2,439.4 568.9,433.0 570.6,413.1 572.2,398.1 574.4,415.6 577.2,405.6 578.9,411.4 581.0,428.9 583.0,423.1 585.5,416.4 587.7,425.1 589.7,423.9 593.0,416.4 596.0,396.5 598.0,403.1 601.0,395.7 604.6,402.3 607.9,399.8 609.6,386.5 611.3,363.2 612.9,360.7 614.9,365.7 616.3,358.3 617.9,342.5 619.9,333.4 621.6,343.0 622.9,299.8 624.1,300.7 625.3,310.6 629.9,311.5 631.2,301.5 632.4,301.5 634.6,316.4 636.9,318.9 638.6,313.4 640.2,321.4 642.9,316.4 645.2,326.1 646.5,318.1 648.5,320.1 649.9,279.9 651.9,271.6 653.5,258.3 654.8,259.9 656.8,268.2 659.0,254.9 660.7,248.0 662.3,250.8 664.0,265.7 666.1,266.2 668.1,276.6 672.3,292.3 675.6,280.7 677.8,282.4 680.6,274.9 682.3,262.9 683.6,263.6 685.6,274.9 687.3,266.2 688.9,266.6 691.1,291.5 693.1,274.1 694.7,269.6 696.4,274.1 698.9,299.8 701.4,314.4 703.0,303.5 706.4,303.1 709.7,301.5 714.7,315.6 716.7,301.5 718.3,299.0 723.0,301.5 725.5,311.1 728.0,306.8 731.0,307.3 733.8,329.4 736.3,322.3 740.4,318.1 741.6,307.3 744.6,306.5 747.1,304.0 751.2,308.1 754.6,309.0 758.7,312.3 760.4,316.8 763.7,312.3 765.9,316.1 768.7,311.8 772.0,309.0 774.2,304.0 776.2,309.8 779.2,307.8 781.2,310.1 783.2,309.0 787.8,315.6 789.5,316.4 791.5,321.1 794.5,314.8 796.1,316.1 798.6,313.9 801.9,317.3 804.8,311.8 808.6,315.1 811.4,315.6 813.6,320.6 816.1,315.6 818.6,313.1 820.2,306.5 822.7,309.5 824.4,310.6 826.9,306.1 828.0,308.1 829.0,334.7 829.6,364.9 830.8,380.7 832.9,385.7 836.6,381.9 839.1,386.6 840.7,384.9 844.1,365.3 846.2,371.6 849.1,368.3 851.6,372.4 854.0,378.2 857.9,364.1 861.5,371.6 864.8,370.8 868.2,384.1 870.7,384.1 872.8,379.6 876.5,389.9 879.5,411.5 881.5,432.8 883.1,424.8 885.6,427.3 888.0,422.0 891.6,421.6 895.0,435.8 898.0,446.6 901.3,467.9 903.3,464.9 905.8,468.2 907.4,481.5 908.6,496.4 910.2,498.9 912.4,485.6 915.7,481.5 918.2,469.8 920.7,458.5 922.4,464.9 924.0,479.0 926.5,480.2 928.5,477.3 930.7,489.0 933.2,490.6 934.8,469.8 936.5,447.4 937.8,446.6 938.5,508.1 939.5,519.4 941.5,509.7 943.2,484.8 944.5,446.9 946.1,449.9 947.8,447.4 949.5,458.2 951.5,470.7 954.0,452.4 956.8,458.5 959.8,454.1 961.4,457.4 963.1,450.2 965.1,460.7 969.8,453.2 973.1,455.7 975.6,471.5 978.1,481.5 980.1,483.1 982.2,469.8 983.4,473.2 985.0,460.7 986.4,465.7 988.4,476.2 991.0,472.3 993.0,466.5 995.5,458.5 997.2,463.2 1000.0,456.2 1002.2,466.5 1004.7,469.8 1006.3,472.3 1008.8,484.5 1011.3,482.3 1013.0,477.8 1015.5,475.7 1017.1,483.5 1018.8,469.8 1022.1,440.3 1024.6,441.3 1026.6,460.7 1029.3,474.0 1031.2,466.9 1033.7,471.5 1036.2,469.0 1038.7,463.2 1041.2,461.2 1043.7,464.0 1045.4,467.4 1047.9,466.5 1049.5,468.2 1052.9,468.2 1056.2,470.7 1059.5,476.5 1060.0,476.5 1063.3,474.0 1065.8,474.9 1068.3,473.5 1071.6,474.0 1074.1,477.4 1076.6,479.0 1079.9,484.0 1082.4,483.2 1084.9,487.3 1087.4,495.7 1088.6,502.3 1090.7,496.5 1093.2,495.7 1095.2,489.0 1096.9,486.5 1099.1,492.3 1101.6,503.1 1104.5,518.1 1106.2,533.0 1107.4,551.3 1109.0,547.2 1110.7,548.3 1112.4,549.3 1114.8,544.7 1116.5,529.7 1117.8,521.1 1119.5,523.9 1121.2,531.4 1123.2,518.1 1125.7,512.3 1128.1,510.1 1129.8,512.3 1131.5,519.8 1133.1,513.9 1135.6,515.1 1138.1,508.1 1139.8,504.5 1141.4,519.8 1143.1,520.6 1145.1,509.8 1146.4,500.6 1148.1,509.8 1149.8,521.7 1151.1,512.3 1153.1,505.6 1155.1,500.6 1156.4,501.5 1159.7,489.0 1161.4,489.8 1164.7,497.3 1167.2,502.3 1168.9,503.1 1171.0,508.1 1173.4,516.8 1175.5,510.6 1177.7,512.3 1179.7,511.1 1181.0,517.3 1182.7,503.1 1183.8,493.2 1185.5,523.4 1187.1,502.3 1188.3,499.8 1190.5,474.0 1192.1,483.2 1194.3,478.2 1196.0,477.4 1198.3,472.4 1200.4,475.7 1202.1,479.9 1204.3,483.5 1206.3,479.9 1207.9,474.9 1210.4,486.5 1212.1,476.5 1213.7,471.6 1214.9,468.2 1215.9,454.9 1217.9,454.6 1219.2,451.3 1220.4,452.4 1221.2,467.9 1222.9,470.7 1224.5,467.4 1225.9,451.3 1227.0,451.6 1228.2,467.9 1229.9,469.9 1231.2,478.2 1232.9,473.5 1235.3,474.9 1237.5,480.7 1239.5,496.5 1241.2,514.8 1243.7,504.0 1246.1,505.6 1248.6,501.5 1250.3,501.8 1252.0,508.9 1254.1,513.1 1254.5,513.1" fill="none" stroke="#f53b2a" stroke-width="3.35" stroke-linejoin="round" stroke-linecap="round"/></g>
<text x="1285.76" y="194.5" class="yl" textLength="104.63" lengthAdjust="spacing">100.00K</text><text x="1301.00" y="261.1" class="yl" textLength="89.08" lengthAdjust="spacing">97.50K</text><text x="1301.00" y="327.7" class="yl" textLength="89.08" lengthAdjust="spacing">95.00K</text><text x="1301.00" y="394.3" class="yl" textLength="89.08" lengthAdjust="spacing">92.50K</text><text x="1301.00" y="460.9" class="yl" textLength="89.08" lengthAdjust="spacing">90.00K</text><text x="1301.00" y="527.5" class="yl" textLength="89.08" lengthAdjust="spacing">87.50K</text><text x="1301.00" y="594.1" class="yl" textLength="89.08" lengthAdjust="spacing">85.00K</text>
<text x="59.63" y="642.8" class="xl" textLength="62.72" lengthAdjust="spacingAndGlyphs">Jan 01</text><text x="142.60" y="642.8" class="xl" textLength="62.72" lengthAdjust="spacingAndGlyphs">Jan 03</text><text x="225.57" y="642.8" class="xl" textLength="62.72" lengthAdjust="spacingAndGlyphs">Jan 05</text><text x="308.54" y="642.8" class="xl" textLength="62.72" lengthAdjust="spacingAndGlyphs">Jan 07</text><text x="391.51" y="642.8" class="xl" textLength="62.72" lengthAdjust="spacingAndGlyphs">Jan 09</text><text x="474.48" y="642.8" class="xl" textLength="62.72" lengthAdjust="spacingAndGlyphs">Jan 11</text><text x="557.45" y="642.8" class="xl" textLength="62.72" lengthAdjust="spacingAndGlyphs">Jan 13</text><text x="640.42" y="642.8" class="xl" textLength="62.72" lengthAdjust="spacingAndGlyphs">Jan 15</text><text x="723.39" y="642.8" class="xl" textLength="62.72" lengthAdjust="spacingAndGlyphs">Jan 17</text><text x="806.36" y="642.8" class="xl" textLength="62.72" lengthAdjust="spacingAndGlyphs">Jan 19</text><text x="889.33" y="642.8" class="xl" textLength="62.72" lengthAdjust="spacingAndGlyphs">Jan 21</text><text x="972.30" y="642.8" class="xl" textLength="62.72" lengthAdjust="spacingAndGlyphs">Jan 23</text><text x="1055.27" y="642.8" class="xl" textLength="62.72" lengthAdjust="spacingAndGlyphs">Jan 25</text><text x="1138.24" y="642.8" class="xl" textLength="62.72" lengthAdjust="spacingAndGlyphs">Jan 27</text><text x="1221.21" y="642.8" class="xl" textLength="62.72" lengthAdjust="spacingAndGlyphs">Jan 29</text>
<path d="M1257.7 513.9 L1269.5 505.8 L1269.5 522 Z" fill="#f93c2a"/>
<rect x="1269" y="491" width="93.4" height="44.7" rx="3.5" fill="#f93c2a"/>
<text x="1281.08" y="522.5" font-size="21.5" fill="#ffffff" textLength="68.90" lengthAdjust="spacing">87.80K</text>
<g fill="none" stroke="#2b3036" stroke-width="1.05">
<ellipse cx="72.2" cy="720.9" rx="11.6" ry="8.5"/>
<path d="M60.6 721 V736.6 A11.6 8.5 0 0 0 83.8 736.6"/>
<path d="M60.6 726.2 A11.6 8.5 0 0 0 83.8 726.2"/>
<path d="M60.6 731.4 A11.6 8.5 0 0 0 83.8 731.4"/>
</g>
<path d="M75.6 717.9 L100.7 717.9 L98.7 725.4 L90.7 725.4 L88.6 731.5 L96.7 728.8 L82.7 750.3 L84.9 740.1 L78.6 741.9 L82.6 725.4 L73.9 725.4 Z" fill="#fffdf6" stroke="#f7c53a" stroke-width="0.95" stroke-linejoin="miter"/>
<rect x="126.1" y="712.2" width="1.9" height="39.5" fill="#7b7b7b"/>
<text x="151.04" y="738.4" font-size="22" fill="#67757d" textLength="198.90" lengthAdjust="spacing">cointelegraph.com</text>
<text x="1097.76" y="741.4" font-size="26" font-style="italic" fill="#6d808a" textLength="87.23" lengthAdjust="spacing">source:</text>
<text x="1191.24" y="741.4" font-size="26" font-style="italic" font-weight="bold" fill="#4b606b" textLength="198.04" lengthAdjust="spacing">CoinMarketCap</text>
</svg>
</body></html>
